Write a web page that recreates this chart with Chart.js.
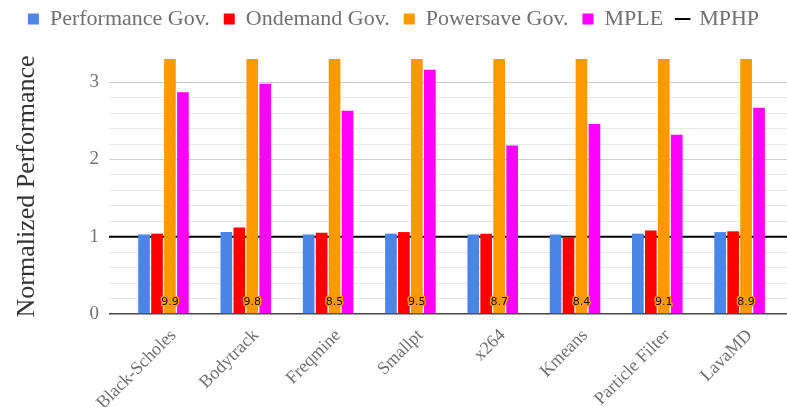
<!DOCTYPE html>
<html>
<head>
<meta charset="utf-8">
<script src="https://cdn.jsdelivr.net/npm/chart.js@4"></script>
<style>
  html, body { margin: 0; padding: 0; background: #fff; }
  #wrap { width: 787px; height: 407px; }
</style>
</head>
<body>
<div id="wrap"><canvas id="chart"></canvas></div>
<script>
// benchmarks
var categories = ['Black-Scholes', 'Bodytrack', 'Freqmine', 'Smallpt', 'x264', 'Kmeans', 'Particle Filter', 'LavaMD'];

// normalized performance per governor
var performanceGov = [1.03, 1.06, 1.03, 1.04, 1.03, 1.03, 1.04, 1.06];
var ondemandGov    = [1.04, 1.12, 1.05, 1.06, 1.04, 1.00, 1.08, 1.07];
var powersaveGov   = [9.9, 9.8, 8.5, 9.5, 8.7, 8.4, 9.1, 8.9];
var mple           = [2.87, 2.98, 2.63, 3.16, 2.18, 2.46, 2.32, 2.67];
var mphp = 1;

var yTicks = [0, 1, 2, 3];

// x range around the category indexes 0..7
var xMin = -0.662, xMax = 7.576;

var serif = '"Liberation Serif", "Times New Roman", serif';

function pts(arr) {
    return arr.map(function (v, i) { return { x: i, y: v }; });
}

// prints the clipped powersave values at the foot of the orange bars
var valueLabels = {
    id: 'valueLabels',
    afterDatasetsDraw: function (chart) {
        var ctx = chart.ctx;
        var meta = chart.getDatasetMeta(2);
        var y0 = chart.scales.y.getPixelForValue(0);
        ctx.save();
        ctx.font = '11px "DejaVu Sans", sans-serif';
        ctx.textAlign = 'center';
        ctx.textBaseline = 'middle';
        meta.data.forEach(function (bar, i) {
            ctx.lineWidth = 3;
            ctx.strokeStyle = '#ff9900';
            ctx.lineJoin = 'round';
            ctx.strokeText(powersaveGov[i].toFixed(1), bar.x, y0 - 12);
            ctx.fillStyle = '#111';
            ctx.fillText(powersaveGov[i].toFixed(1), bar.x, y0 - 12);
        });
        ctx.restore();
    }
};

// a bit more room under the legend
var legendGap = {
    id: 'legendGap',
    beforeInit: function (chart) {
        var fit = chart.legend.fit;
        chart.legend.fit = function () {
            fit.bind(chart.legend)();
            this.height += 19;
        };
    }
};

var ctx = document.getElementById('chart');
const chart = new Chart(ctx, {
    data: {
        datasets: [
            { type: 'bar', label: 'Performance Gov.', data: pts(performanceGov), backgroundColor: '#4a86e8', pointStyle: 'rect' },
            { type: 'bar', label: 'Ondemand Gov.', data: pts(ondemandGov), backgroundColor: '#ff0000', pointStyle: 'rect' },
            { type: 'bar', label: 'Powersave Gov.', data: pts(powersaveGov), backgroundColor: '#ff9900', pointStyle: 'rect' },
            { type: 'bar', label: 'MPLE', data: pts(mple), backgroundColor: '#ff00ff', pointStyle: 'rect' },
            {
                type: 'line', label: 'MPHP',
                data: [{ x: xMin, y: mphp }, { x: xMax, y: mphp }],
                borderColor: '#000', backgroundColor: '#000', borderWidth: 2,
                pointRadius: 0, pointStyle: 'line'
            }
        ]
    },
    options: {
        responsive: true,
        maintainAspectRatio: false,
        animation: false,
        layout: { padding: { top: -6, right: 0, bottom: 0, left: 0 } },
        datasets: {
            bar: { categoryPercentage: 0.63, barPercentage: 0.9 }
        },
        plugins: {
            tooltip: { enabled: false },
            legend: {
                position: 'top',
                labels: {
                    usePointStyle: true,
                    boxWidth: 11,
                    boxHeight: 11,
                    padding: 14,
                    color: '#707070',
                    font: { family: serif, size: 22 }
                }
            }
        },
        scales: {
            x: {
                type: 'linear',
                offset: false,
                min: xMin,
                max: xMax,
                grid: { display: false },
                border: { display: false },
                afterFit: function (scale) { scale.height = 93; },
                ticks: {
                    stepSize: 1,
                    includeBounds: false,
                    autoSkip: false,
                    minRotation: 45,
                    maxRotation: 45,
                    padding: 3,
                    labelOffset: 10,
                    color: '#707070',
                    font: { family: serif, size: 18 },
                    callback: function (v) {
                        return Number.isInteger(v) && categories[v] ? categories[v] : '';
                    }
                }
            },
            y: {
                min: 0,
                max: 3.3,
                border: { display: false },
                afterFit: function (scale) { scale.width = 109; },
                grid: {
                    drawTicks: false,
                    color: function (c) {
                        var v = c.tick.value;
                        if (Math.abs(v * 5 - Math.round(v * 5)) > 1e-6) return 'rgba(0,0,0,0)';
                        var r = Math.round(v * 10) / 10;
                        if (r === 0) return '#444';
                        return Number.isInteger(r) ? '#cfcfcf' : '#e8e8e8';
                    },
                    lineWidth: function (c) { return c.tick.value === 0 ? 1.5 : 1; }
                },
                ticks: {
                    stepSize: 0.2,
                    autoSkip: false,
                    maxTicksLimit: 100,
                    padding: 10,
                    color: '#707070',
                    font: { family: serif, size: 19 },
                    callback: function (v) {
                        var r = Math.round(v * 10) / 10;
                        return yTicks.indexOf(r) >= 0 && Math.abs(v - r) < 1e-6 ? String(r) : '';
                    }
                },
                title: {
                    display: true,
                    text: 'Normalized Performance',
                    color: '#333',
                    font: { family: serif, size: 26 },
                    padding: { top: 12, bottom: 0 }
                }
            }
        }
    },
    plugins: [valueLabels, legendGap]
});
</script>
</body>
</html>
